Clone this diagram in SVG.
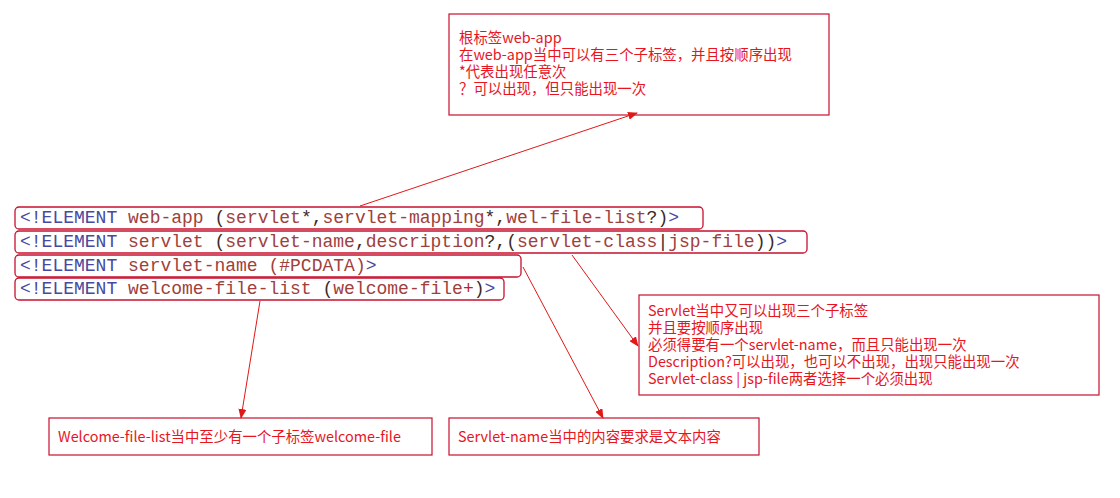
<svg xmlns="http://www.w3.org/2000/svg" width="1120" height="498" viewBox="0 0 1120 498">
<style>
.code{font-family:"Liberation Mono","DejaVu Sans Mono",monospace;font-size:18px;white-space:pre}
.kw{fill:#4848a0}.nm{fill:#a0403c}.pn{fill:#3a2a2a}.pl{fill:#c02020}
.cbox{fill:none;stroke:#c8102e;stroke-width:1.3}
.nbox{fill:#fff;stroke:#c8102e;stroke-width:1.2}
.note{font-family:"Noto Sans CJK SC","Noto Sans",sans-serif;font-size:14.4px;fill:#e8141e}
.conn line{stroke:#e01818;stroke-width:1}
</style>
<defs>
<marker id="ah" markerWidth="10" markerHeight="8" refX="9" refY="4" orient="auto" markerUnits="userSpaceOnUse">
<path d="M0,0 L10,4 L0,8 Z" fill="#e01818"/>
</marker>
</defs>
<rect width="1120" height="498" fill="#fff"/>

<g id="code1">
<rect class="cbox" x="15" y="207" width="688" height="22" rx="4"/>
<text class="code" x="20" y="223"><tspan class="kw">&lt;!ELEMENT</tspan> <tspan class="nm">web-app</tspan> <tspan class="pn">(</tspan><tspan class="nm">servlet</tspan><tspan class="pn">*,</tspan><tspan class="nm">servlet-mapping</tspan><tspan class="pn">*,</tspan><tspan class="nm">wel-file-list</tspan><tspan class="pn">?)</tspan><tspan class="kw">&gt;</tspan></text>
</g>
<g id="code2">
<rect class="cbox" x="15" y="231" width="792" height="22" rx="4"/>
<text class="code" x="20" y="247"><tspan class="kw">&lt;!ELEMENT</tspan> <tspan class="nm">servlet</tspan> <tspan class="pn">(</tspan><tspan class="nm">servlet-name</tspan><tspan class="pn">,</tspan><tspan class="nm">description</tspan><tspan class="pn">?,(</tspan><tspan class="nm">servlet-class</tspan><tspan class="pn">|</tspan><tspan class="nm">jsp-file</tspan><tspan class="pn">))</tspan><tspan class="kw">&gt;</tspan></text>
</g>
<g id="code3">
<rect class="cbox" x="15" y="255" width="506" height="22" rx="4"/>
<text class="code" x="20" y="271"><tspan class="kw">&lt;!ELEMENT</tspan> <tspan class="nm">servlet-name</tspan> <tspan class="nm">(#PCDATA)</tspan><tspan class="kw">&gt;</tspan></text>
</g>
<g id="code4">
<rect class="cbox" x="15" y="278" width="489" height="22" rx="4"/>
<text class="code" x="20" y="294"><tspan class="kw">&lt;!ELEMENT</tspan> <tspan class="nm">welcome-file-list</tspan> <tspan class="pn">(</tspan><tspan class="nm">welcome-file</tspan><tspan class="pl">+</tspan><tspan class="pn">)</tspan><tspan class="kw">&gt;</tspan></text>
</g>

<g id="note-webapp">
<rect class="nbox" x="449" y="14" width="380" height="101"/>
<text class="note" x="459" y="43">根标签web-app</text>
<text class="note" x="459" y="60">在web-app当中可以有三个子标签，并且按顺序出现</text>
<text class="note" x="459" y="77">*代表出现任意次</text>
<text class="note" x="459" y="94">？可以出现，但只能出现一次</text>
</g>
<g id="note-servlet">
<rect class="nbox" x="639" y="295" width="460" height="100"/>
<text class="note" x="648" y="316">Servlet当中又可以出现三个子标签</text>
<text class="note" x="648" y="333">并且要按顺序出现</text>
<text class="note" x="648" y="350">必须得要有一个servlet-name，而且只能出现一次</text>
<text class="note" x="648" y="367">Description?可以出现，也可以不出现，出现只能出现一次</text>
<text class="note" x="648" y="384">Servlet-class |  jsp-file两者选择一个必须出现</text>
</g>
<g id="note-welcome">
<rect class="nbox" x="49" y="418" width="383" height="37"/>
<text class="note" x="58" y="442">Welcome-file-list当中至少有一个子标签welcome-file</text>
</g>
<g id="note-name">
<rect class="nbox" x="449" y="418" width="310" height="37"/>
<text class="note" x="458" y="442">Servlet-name当中的内容要求是文本内容</text>
</g>

<g id="connectors" class="conn">
<line x1="360" y1="206" x2="637" y2="113" marker-end="url(#ah)"/>
<line x1="572" y1="255" x2="638" y2="346" marker-end="url(#ah)"/>
<line x1="523" y1="267" x2="603" y2="418" marker-end="url(#ah)"/>
<line x1="260" y1="301" x2="241" y2="418" marker-end="url(#ah)"/>
</g>
</svg>
